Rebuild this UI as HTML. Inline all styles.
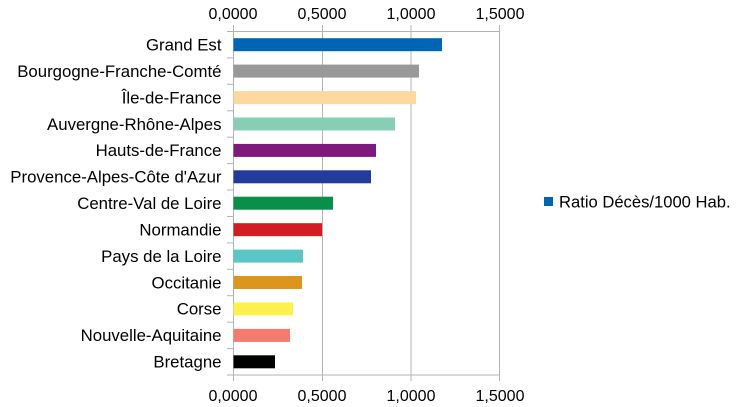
<!DOCTYPE html>
<html><head><meta charset="utf-8"><style>
body{margin:0;background:#fff}
svg{display:block;font-family:"Liberation Sans",sans-serif;font-size:16px;fill:#000}
</style></head><body>
<svg width="739" height="407" viewBox="0 0 739 407">
<rect width="739" height="407" fill="#fff"/>
<g stroke="#b3b3b3" stroke-width="1">
<line x1="233.5" y1="25" x2="233.5" y2="381"/>
<line x1="322.5" y1="25" x2="322.5" y2="381"/>
<line x1="411" y1="25" x2="411" y2="381"/>
<line x1="499.5" y1="25" x2="499.5" y2="381"/>
<line x1="233.5" y1="375" x2="499.5" y2="375"/>
<line x1="233.5" y1="31.5" x2="499.5" y2="31.5"/>
<line x1="227" y1="31.5" x2="233.5" y2="31.5"/>
<line x1="227" y1="57.9" x2="233.5" y2="57.9"/>
<line x1="227" y1="84.3" x2="233.5" y2="84.3"/>
<line x1="227" y1="110.8" x2="233.5" y2="110.8"/>
<line x1="227" y1="137.2" x2="233.5" y2="137.2"/>
<line x1="227" y1="163.6" x2="233.5" y2="163.6"/>
<line x1="227" y1="190" x2="233.5" y2="190"/>
<line x1="227" y1="216.5" x2="233.5" y2="216.5"/>
<line x1="227" y1="242.9" x2="233.5" y2="242.9"/>
<line x1="227" y1="269.3" x2="233.5" y2="269.3"/>
<line x1="227" y1="295.7" x2="233.5" y2="295.7"/>
<line x1="227" y1="322.2" x2="233.5" y2="322.2"/>
<line x1="227" y1="348.6" x2="233.5" y2="348.6"/>
<line x1="227" y1="375" x2="233.5" y2="375"/>
</g>
<g text-anchor="middle">
<text x="233" y="19">0,0000</text><text x="322" y="19">0,5000</text><text x="411" y="19">1,0000</text><text x="500" y="19">1,5000</text>
<text x="233" y="401">0,0000</text><text x="322" y="401">0,5000</text><text x="411" y="401">1,0000</text><text x="500" y="401">1,5000</text>
</g>
<g>
<rect x="233.5" y="38.2" width="208.5" height="13" fill="#0066b3"/>
<rect x="233.5" y="64.6" width="185.5" height="13" fill="#999999"/>
<rect x="233.5" y="91.1" width="182.5" height="13" fill="#ffd8a0"/>
<rect x="233.5" y="117.5" width="161.5" height="13" fill="#87cfb4"/>
<rect x="233.5" y="143.9" width="142.5" height="13" fill="#7e1a7d"/>
<rect x="233.5" y="170.3" width="137.5" height="13" fill="#233c9a"/>
<rect x="233.5" y="196.7" width="99.5" height="13" fill="#0a8f4b"/>
<rect x="233.5" y="223.2" width="88.5" height="13" fill="#d11c24"/>
<rect x="233.5" y="249.6" width="69.5" height="13" fill="#5ac6c6"/>
<rect x="233.5" y="276" width="68.5" height="13" fill="#dd961c"/>
<rect x="233.5" y="302.4" width="59.5" height="13" fill="#fff04e"/>
<rect x="233.5" y="328.9" width="56.5" height="13" fill="#f47c6e"/>
<rect x="233.5" y="355.3" width="41.5" height="13" fill="#000000"/>
</g>
<g text-anchor="end" font-size="16.8">
<text x="221.5" y="50.5">Grand Est</text>
<text x="221.5" y="76.9">Bourgogne-Franche-Comté</text>
<text x="221.5" y="103.4">Île-de-France</text>
<text x="221.5" y="129.8">Auvergne-Rhône-Alpes</text>
<text x="221.5" y="156.2">Hauts-de-France</text>
<text x="221.5" y="182.6">Provence-Alpes-Côte d'Azur</text>
<text x="221.5" y="209">Centre-Val de Loire</text>
<text x="221.5" y="235.5">Normandie</text>
<text x="221.5" y="261.9">Pays de la Loire</text>
<text x="221.5" y="288.3">Occitanie</text>
<text x="221.5" y="314.7">Corse</text>
<text x="221.5" y="341.2">Nouvelle-Aquitaine</text>
<text x="221.5" y="367.6">Bretagne</text>
</g>
<rect x="544" y="197" width="9" height="9" fill="#0066b3"/>
<text x="559" y="207.5" font-size="16.6">Ratio Décès/1000 Hab.</text>
</svg>
</body></html>
